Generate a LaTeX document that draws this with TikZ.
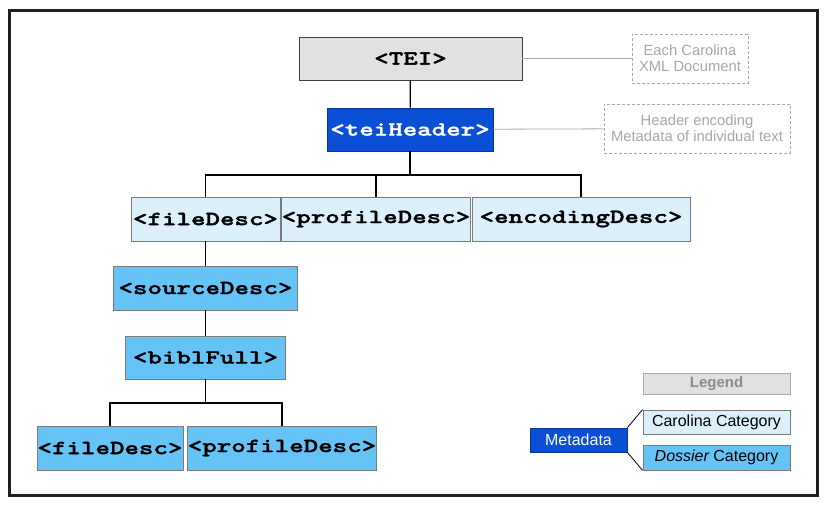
\documentclass[tikz,border=0pt]{standalone}
\usepackage{fontspec}
\setmainfont{Liberation Sans}
\newfontfamily\tagfont{lmmonolt10-bold.otf}[FakeBold=1.6, FakeStretch=1.38]
\definecolor{frame}{HTML}{202020}
\definecolor{teigray}{HTML}{E1E1E1}
\definecolor{hdrblue}{HTML}{0A4FD6}
\definecolor{lightblue}{HTML}{DCF0FC}
\definecolor{midblue}{HTML}{66C3F6}
\definecolor{boxedge}{HTML}{7A7A7A}
\definecolor{notegray}{HTML}{A8A8A8}
\tikzset{
  tag/.style={draw=boxedge, line width=0.8pt, inner sep=0pt, font=\tagfont\fontsize{20}{22}\selectfont},
  graytag/.style={tag, fill=teigray, draw=black!75},
  bluetag/.style={tag, fill=hdrblue, draw=hdrblue!70!black, text=white},
  lighttag/.style={tag, fill=lightblue},
  midtag/.style={tag, fill=midblue},
  note/.style={draw=notegray, densely dashed, line width=0.9pt, text=notegray, align=center, inner sep=0pt, font=\fontsize{14.8}{16}\selectfont},
  notelink/.style={draw=notegray, line width=0.8pt},
  link/.style={draw=black, line width=1.2pt},
  legendbox/.style={draw=boxedge, line width=0.8pt, inner sep=0pt, font=\fontsize{16}{18}\selectfont},
}
\begin{document}
\begin{tikzpicture}[x=1pt,y=-1pt]
\useasboundingbox (0,0) rectangle (830,506);
\fill[white] (0,0) rectangle (830,506);
\draw[frame, line width=3pt] (9.5,10) rectangle (817,495.5);

% main tree
\node[graytag, minimum width=223pt, minimum height=43pt] (tei) at (410.5,58.5) {<TEI>};
\node[bluetag, minimum width=166pt, minimum height=43pt] (hdr) at (410,129.5) {<teiHeader>};
\node[note, minimum width=116pt, minimum height=49pt] (note1) at (690,58.5) {Each Carolina\\XML Document};
\node[note, minimum width=186pt, minimum height=49pt] (note2) at (697,128.5) {Header encoding\\Metadata of individual text};

\node[lighttag, minimum width=149pt, minimum height=44pt] (file) at (205.5,219) {<fileDesc>};
\node[lighttag, minimum width=182pt, minimum height=44pt] (prof) at (376,219) {<profileDesc>};
\node[lighttag, minimum width=218pt, minimum height=44pt] (enc) at (581,219) {<encodingDesc>};

\node[midtag, minimum width=184pt, minimum height=44pt] (src) at (205.5,288) {<sourceDesc>};
\node[midtag, minimum width=160pt, minimum height=43pt] (bibl) at (205.5,357.5) {<biblFull>};
\node[midtag, minimum width=146pt, minimum height=44pt] (file2) at (110,448) {<fileDesc>};
\node[midtag, minimum width=184pt, minimum height=44pt] (prof2) at (282,448) {<profileDesc>};

% legend
\node[legendbox, fill=teigray, draw=notegray, text=black!45, font=\bfseries\fontsize{15}{17}\selectfont, minimum width=147pt, minimum height=21pt] (leg) at (716.5,383.5) {Legend};
\node[legendbox, fill=lightblue, minimum width=147pt, minimum height=24pt] (car) at (716.5,422) {Carolina Category};
\node[legendbox, fill=midblue, minimum width=147pt, minimum height=25pt] (dos) at (716.5,457.5) {\itshape Dossier\upshape{} Category};
\node[legendbox, fill=hdrblue, draw=hdrblue!70!black, text=white, minimum width=97pt, minimum height=24pt] (meta) at (578.5,440) {Metadata};

% connectors
\coordinate (b1) at (410,175);
\coordinate (b2) at (205.5,403);
\draw[link] (tei) -- (hdr);
\draw[link] (hdr) -- (b1);
\draw[link] (file.north) |- (b1) -| (enc.north);
\draw[link] (prof.north) -- (prof.north |- b1);
\draw[link] (file) -- (src);
\draw[link] (src) -- (bibl);
\draw[link] (bibl) -- (b2);
\draw[link] (file2.north) |- (b2) -| (prof2.north);
\draw[notelink] (tei) -- (note1);
\draw[notelink] (hdr) -- (note2);
\draw[line width=0.8pt] (meta.north east) -- (car.north west);
\draw[line width=0.8pt] (meta.south east) -- (dos.south west);
\end{tikzpicture}
\end{document}
